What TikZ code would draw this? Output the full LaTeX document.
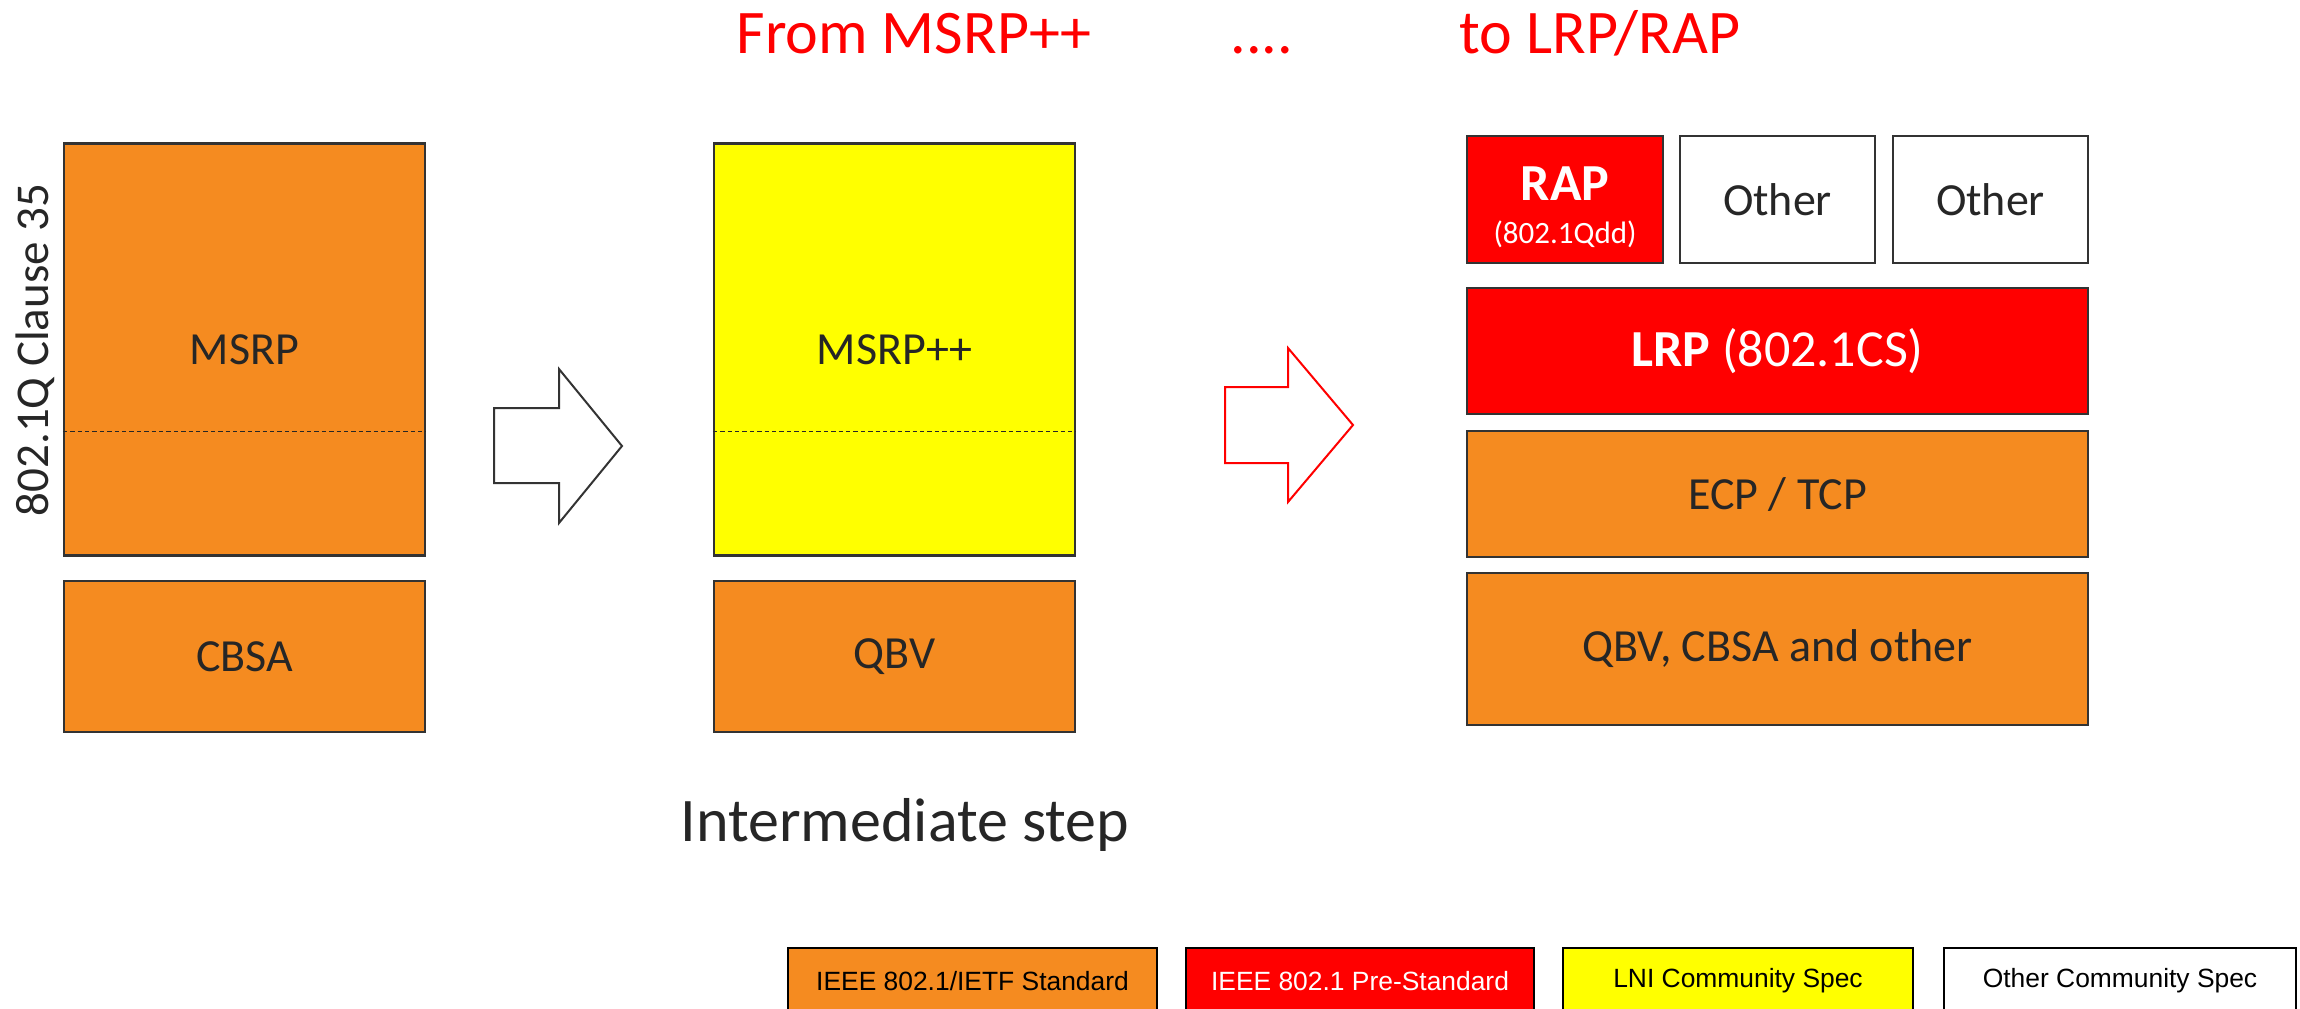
\documentclass[tikz,border=0pt]{standalone}
\usepackage{fontspec}
\setmainfont{Carlito}
\newfontfamily\legendfont{Liberation Sans}
\usepackage{tikz}
\usetikzlibrary{positioning, calc}
\definecolor{stdorange}{RGB}{245,139,32}
\definecolor{prered}{RGB}{255,0,0}
\definecolor{lniyellow}{RGB}{255,255,0}
\definecolor{textgray}{RGB}{38,38,38}
\definecolor{edgegray}{RGB}{51,51,51}

\begin{document}
\begin{tikzpicture}[x=0.5pt, y=-0.5pt,
    layer/.style={rectangle, draw=edgegray, line width=1.2pt, inner sep=0pt, text=textgray, font=\fontsize{23}{27}\selectfont},
    legendbox/.style={rectangle, draw=black, line width=0.8pt, inner sep=0pt, minimum height=33pt, font=\legendfont\fontsize{13.2}{16}\selectfont},
    headline/.style={text=prered, anchor=base, inner sep=0pt, font=\fontsize{31}{36}\selectfont},
    divider/.style={draw=textgray, line width=0.6pt, dash pattern=on 2.2pt off 1.5pt},
    blockarrow/.style={line width=1pt, fill=white, line join=miter}]
    \useasboundingbox (0,0) rectangle (2300,1008);

    % Headline
    \node[headline] (from) at (914,53) {From MSRP++};
    \node[headline] (dots) at (1262,53) {....};
    \node[headline] (to) at (1600,53) {to LRP/RAP};

    % Today: 802.1Q Clause 35
    \node[layer, fill=stdorange, minimum width=180.5pt, minimum height=206pt] (msrp) at (244.5,349.5) {MSRP};
    \node[layer, fill=stdorange, minimum width=180.5pt, minimum height=75.5pt] (cbsa) at (244.5,656.5) {CBSA};
    \node[rotate=90, anchor=base, inner sep=0pt, text=textgray, font=\fontsize{23.5}{28}\selectfont] (clause) at (48,350) {802.1Q Clause 35};
    \draw[divider] ($(msrp.north west)!0.697!(msrp.south west)$) -- ($(msrp.north east)!0.697!(msrp.south east)$);

    % Arrow to the intermediate step
    \draw[blockarrow, draw=edgegray] (494,408) -- (559,408) -- (559,369) -- (622,446) -- (559,523) -- (559,483) -- (494,483) -- cycle;

    % Intermediate step
    \node[layer, fill=lniyellow, minimum width=180.5pt, minimum height=206pt] (msrpp) at (894.5,349.5) {MSRP++};
    \node[layer, fill=stdorange, minimum width=180.5pt, minimum height=75.5pt] (qbv) at (894.5,656.5) {QBV};
    \draw[divider] ($(msrpp.north west)!0.697!(msrpp.south west)$) -- ($(msrpp.north east)!0.697!(msrpp.south east)$);
    \node[anchor=base, inner sep=0pt, text=textgray, font=\fontsize{31}{36}\selectfont] (step) at (905,841) {Intermediate step};

    % Arrow to LRP/RAP
    \draw[blockarrow, draw=prered] (1225,387) -- (1288,387) -- (1288,348) -- (1353,425) -- (1288,502) -- (1288,463) -- (1225,463) -- cycle;

    % LRP/RAP stack
    \node[layer, fill=prered, minimum width=98pt, minimum height=63.5pt] (rap) at (1565,199.5) {};
    \node[align=center, text=white, inner sep=0pt, font=\fontsize{26}{21.5}\selectfont] (raptext) at ([yshift=-3.7pt]rap.center)
        {\textbf{RAP}\\{\fontsize{15.5}{18}\selectfont (802.1Qdd)}};
    \node[layer, fill=white, minimum width=97.5pt, minimum height=63.5pt] (otherA) at (1777.5,199.5) {Other};
    \node[layer, fill=white, minimum width=97.5pt, minimum height=63.5pt] (otherB) at (1990.5,199.5) {Other};
    \node[layer, fill=prered, text=white, minimum width=310.5pt, minimum height=63pt, font=\fontsize{26}{30}\selectfont] (lrp) at (1777.5,351) {\textbf{LRP} (802.1CS)};
    \node[layer, fill=stdorange, minimum width=310.5pt, minimum height=63pt] (ecp) at (1777.5,494) {ECP / TCP};
    \node[layer, fill=stdorange, minimum width=310.5pt, minimum height=76pt] (qbvcbsa) at (1777.5,649) {QBV, CBSA and other};

    % Legend
    \node[legendbox, fill=stdorange, minimum width=184.5pt] (legstd) at (972.5,981) {IEEE 802.1/IETF Standard};
    \node[legendbox, fill=prered, text=white, minimum width=174pt] (legpre) at (1360,981) {IEEE 802.1 Pre-Standard};
    \node[legendbox, fill=lniyellow, minimum width=175pt] (leglni) at (1738,981) {LNI Community Spec};
    \node[legendbox, fill=white, minimum width=176pt] (legother) at (2120,981) {Other Community Spec};
\end{tikzpicture}
\end{document}
